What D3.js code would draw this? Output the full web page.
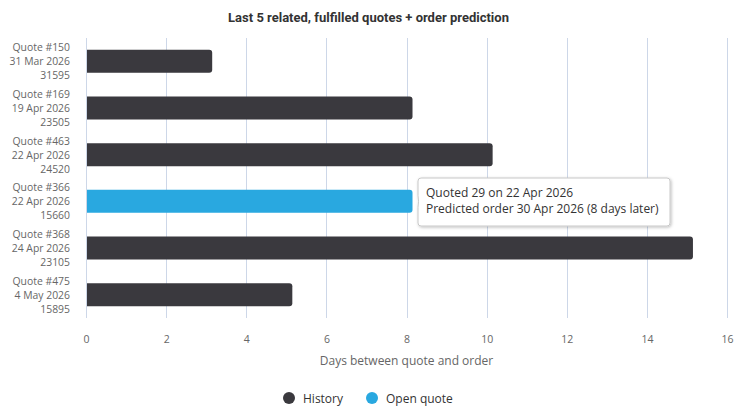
<!DOCTYPE html>
<html>
<head>
<meta charset="utf-8">
<script src="https://cdn.jsdelivr.net/npm/d3@7"></script>
<style>
  body { margin: 0; background: #fff; }
  svg { display: block; }
</style>
</head>
<body>
<div id="chart"></div>
<script>
// quotes shown on the category axis (top to bottom)
var quoteNames = ["Quote #150", "Quote #169", "Quote #463", "Quote #366", "Quote #368", "Quote #475"];
var quoteDates = ["31 Mar 2026", "19 Apr 2026", "22 Apr 2026", "22 Apr 2026", "24 Apr 2026", "4 May 2026"];
var quoteAmounts = ["31595", "23505", "24520", "15660", "23105", "15895"];
// days between quote and order
var days = [3.15, 8.15, 10.15, 8.15, 15.15, 5.15];
var series = ["History", "History", "History", "Open quote", "History", "History"];
var xTicks = [0, 2, 4, 6, 8, 10, 12, 14, 16];
var legendItems = ["History", "Open quote"];
var tooltipLines = ["Quoted 29 on 22 Apr 2026", "Predicted order 30 Apr 2026 (8 days later)"];

var width = 739, height = 411;
var margin = { top: 38, right: 12, bottom: 93, left: 86 };
var colors = { "History": "#3a393e", "Open quote": "#29a8e0" };
var labelFont = "'Open Sans', 'Noto Sans', sans-serif";

var svg = d3.select("#chart").append("svg")
  .attr("width", width)
  .attr("height", height);

// title
svg.append("text")
  .attr("x", 368.5)
  .attr("y", 22)
  .attr("text-anchor", "middle")
  .style("font-family", "Roboto, sans-serif")
  .style("font-weight", "bold")
  .style("font-size", "13px")
  .style("fill", "#333")
  .text("Last 5 related, fulfilled quotes + order prediction");

var x = d3.scaleLinear().domain([0, 16]).range([margin.left, 727]);
var y = d3.scaleBand()
  .domain(d3.range(quoteNames.length))
  .range([margin.top, height - margin.bottom])
  .paddingInner(0)
  .paddingOuter(0);

// vertical grid lines
svg.append("g")
  .selectAll("line")
  .data(xTicks)
  .enter()
  .append("line")
  .attr("x1", function (d) { return Math.round(x(d)) + 0.5; })
  .attr("x2", function (d) { return Math.round(x(d)) + 0.5; })
  .attr("y1", margin.top)
  .attr("y2", height - margin.bottom)
  .style("stroke", "#cdd7e8")
  .style("stroke-width", 1);

// x axis tick labels
var xAxis = d3.axisBottom(x).tickValues(xTicks).tickSize(0).tickPadding(18);
var xg = svg.append("g")
  .attr("transform", "translate(0," + (height - margin.bottom) + ")")
  .call(xAxis);
xg.select(".domain").remove();
xg.selectAll("text")
  .style("font-family", labelFont)
  .style("font-size", "10.5px")
  .style("fill", "#666");

svg.append("text")
  .attr("x", (margin.left + 727) / 2)
  .attr("y", 365)
  .attr("text-anchor", "middle")
  .style("font-family", labelFont)
  .style("font-size", "12px")
  .style("fill", "#666")
  .text("Days between quote and order");

// category labels, three lines each
var cat = svg.append("g")
  .selectAll("text")
  .data(d3.range(quoteNames.length))
  .enter()
  .append("text")
  .attr("text-anchor", "end")
  .style("font-family", labelFont)
  .style("font-size", "10.4px")
  .style("fill", "#666");
cat.each(function (i) {
  var t = d3.select(this);
  var cy = y(i) + y.bandwidth() / 2;
  [quoteNames[i], quoteDates[i], quoteAmounts[i]].forEach(function (s, k) {
    t.append("tspan")
      .attr("x", 70)
      .attr("y", cy + (k - 1) * 14 + 4)
      .text(s);
  });
});

// bars with rounded right end
var barH = 23, r = 3;
function barPath(i) {
  var x0 = x(0), x1 = x(days[i]);
  var y0 = y(i) + (y.bandwidth() - barH) / 2, y1 = y0 + barH;
  return "M" + x0 + "," + y0 +
    "H" + (x1 - r) +
    "Q" + x1 + "," + y0 + " " + x1 + "," + (y0 + r) +
    "V" + (y1 - r) +
    "Q" + x1 + "," + y1 + " " + (x1 - r) + "," + y1 +
    "H" + x0 + "Z";
}
svg.append("g")
  .selectAll("path")
  .data(d3.range(days.length))
  .enter()
  .append("path")
  .attr("d", barPath)
  .style("fill", function (i) { return colors[series[i]]; });

// y axis line
svg.append("line")
  .attr("x1", margin.left + 0.5)
  .attr("x2", margin.left + 0.5)
  .attr("y1", margin.top)
  .attr("y2", height - margin.bottom)
  .style("stroke", "#cdd7e8");

// tooltip on the open quote
var openIdx = series.indexOf("Open quote");
var tipX = x(days[openIdx]) + 6, tipY = y(openIdx) + y.bandwidth() / 2;
var bx = 418, by = 178, bw = 252, bh = 48;
var defs = svg.append("defs");
var f = defs.append("filter").attr("id", "shadow")
  .attr("x", "-10%").attr("y", "-20%").attr("width", "120%").attr("height", "150%");
f.append("feDropShadow")
  .attr("dx", 1).attr("dy", 1).attr("stdDeviation", 1.5)
  .attr("flood-color", "#000").attr("flood-opacity", 0.25);

var tipPath = "M" + (bx + 3) + "," + by +
  "H" + (bx + bw - 3) + "Q" + (bx + bw) + "," + by + " " + (bx + bw) + "," + (by + 3) +
  "V" + (by + bh - 3) + "Q" + (bx + bw) + "," + (by + bh) + " " + (bx + bw - 3) + "," + (by + bh) +
  "H" + (bx + 3) + "Q" + bx + "," + (by + bh) + " " + bx + "," + (by + bh - 3) +
  "V" + (tipY + 6) + "L" + tipX + "," + tipY + "L" + bx + "," + (tipY - 6) +
  "V" + (by + 3) + "Q" + bx + "," + by + " " + (bx + 3) + "," + by + "Z";
svg.append("path")
  .attr("d", tipPath)
  .style("fill", "#fff")
  .style("stroke", "#c8c8c8")
  .style("stroke-width", 1)
  .attr("filter", "url(#shadow)");
svg.append("text")
  .selectAll("tspan")
  .data(tooltipLines)
  .enter()
  .append("tspan")
  .attr("x", bx + 8)
  .attr("y", function (d, i) { return by + 19 + i * 16; })
  .style("font-family", labelFont)
  .style("font-size", "12px")
  .style("fill", "#333")
  .text(function (d) { return d; });

// legend
var legendX = [289, 372];
var legend = svg.selectAll(".legend")
  .data(legendItems)
  .enter()
  .append("g")
  .attr("class", "legend")
  .attr("transform", function (d, i) { return "translate(" + legendX[i] + ",398)"; });
legend.append("circle")
  .attr("r", 6)
  .style("fill", function (d) { return colors[d]; });
legend.append("text")
  .attr("x", 14)
  .attr("y", 4.5)
  .style("font-family", labelFont)
  .style("font-size", "12px")
  .style("fill", "#333")
  .text(function (d) { return d; });
</script>
</body>
</html>
